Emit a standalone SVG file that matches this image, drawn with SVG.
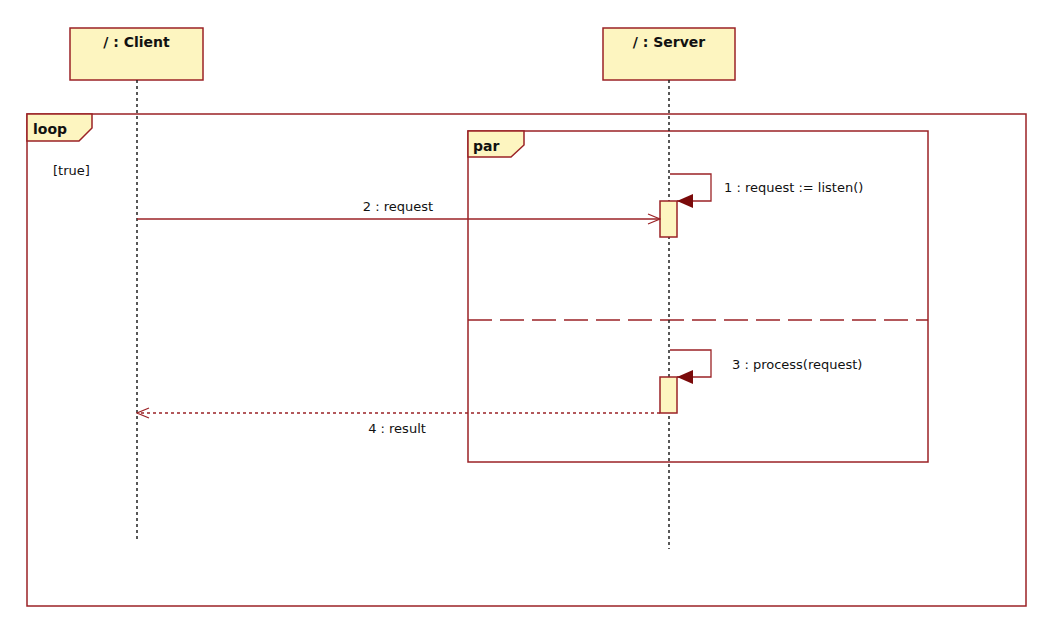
<svg xmlns="http://www.w3.org/2000/svg" width="1052" height="633" viewBox="0 0 1052 633">
<style>
.frame{fill:none;stroke:#9b2226;stroke-width:1.5}
.tab{fill:#fdf5c0;stroke:#9b2226;stroke-width:1.5}
.box{fill:#fdf5c0;stroke:#9b2226;stroke-width:1.5}
.life{stroke:#222;stroke-width:1.5;stroke-dasharray:3,3;fill:none}
.msg{stroke:#9b2226;stroke-width:1.3;fill:none}
.t{font-family:"DejaVu Sans","Liberation Sans",sans-serif;font-size:13px;fill:#111}
.b{font-family:"DejaVu Sans","Liberation Sans",sans-serif;font-size:14px;font-weight:bold;fill:#111}
</style>
<defs>
<marker id="open" markerWidth="14" markerHeight="12" refX="13" refY="6" orient="auto" markerUnits="userSpaceOnUse">
<path d="M1,1 L13,6 L1,11" fill="none" stroke="#9b2226" stroke-width="1.2"/>
</marker>
<marker id="filled" markerWidth="16" markerHeight="14" refX="16" refY="7" orient="auto" markerUnits="userSpaceOnUse">
<path d="M0,0 L16,7 L0,14 Z" fill="#7a0a0a"/>
</marker>
</defs>
<rect width="1052" height="633" fill="#fff"/>
<g id="loop-frame">
<rect class="frame" x="27" y="114" width="999" height="492"/>
<path class="tab" d="M27,114 L92,114 L92,128 L79,141 L27,141 Z"/>
<text class="b" x="33" y="134" font-size="13">loop</text>
<text class="t" x="53" y="175">[true]</text>
</g>
<g id="par-frame">
<rect class="frame" x="468" y="131" width="460" height="331"/>
<path class="tab" d="M468,131 L524,131 L524,145 L511,157 L468,157 Z"/>
<text class="b" x="473" y="151" font-size="13">par</text>
<line x1="468" y1="320" x2="928" y2="320" stroke="#9b2226" stroke-width="1.5" stroke-dasharray="24,8"/>
</g>
<g id="client">
<rect class="box" x="70" y="28" width="133" height="52"/>
<text class="b" x="136.5" y="47" text-anchor="middle">/ : Client</text>
<line class="life" x1="137" y1="80" x2="137" y2="542"/>
</g>
<g id="server">
<rect class="box" x="603" y="28" width="132" height="52"/>
<text class="b" x="669" y="47" text-anchor="middle">/ : Server</text>
<line class="life" x1="669" y1="80" x2="669" y2="549"/>
<rect class="box" x="660" y="201" width="17" height="36"/>
<rect class="box" x="660" y="377" width="17" height="36"/>
</g>
<g id="connectors">
<path class="msg" d="M670,174 L711,174 L711,201 L677,201" marker-end="url(#filled)"/>
<text class="t" x="724" y="192">1 : request := listen()</text>
<line class="msg" x1="137" y1="219" x2="660" y2="219" marker-end="url(#open)"/>
<text class="t" x="398" y="211" text-anchor="middle">2 : request</text>
<path class="msg" d="M670,350 L711,350 L711,377 L677,377" marker-end="url(#filled)"/>
<text class="t" x="732" y="369">3 : process(request)</text>
<line class="msg" x1="660" y1="413" x2="137" y2="413" stroke-dasharray="3,3" marker-end="url(#open)"/>
<text class="t" x="397" y="433" text-anchor="middle">4 : result</text>
</g>
</svg>
